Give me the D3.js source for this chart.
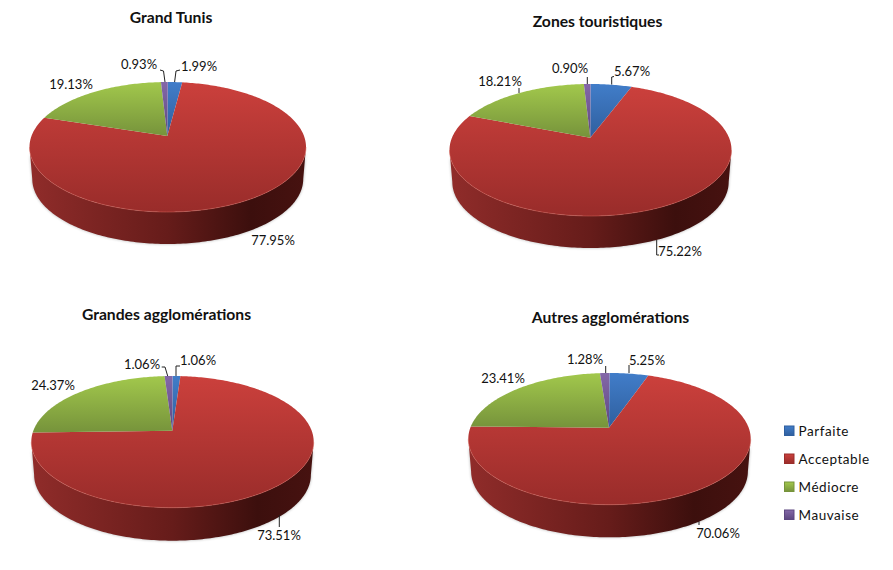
<!DOCTYPE html>
<html lang="fr">
<head>
<meta charset="utf-8">
<title>Qualité par zone</title>
<script src="https://cdn.jsdelivr.net/npm/d3@7/dist/d3.min.js"></script>
<style>
  html, body { margin: 0; padding: 0; background: #fff; }
  svg { display: block; }
  text { font-family: Lato, "Open Sans", sans-serif; fill: #111; }
</style>
</head>
<body>
<div id="chart"></div>
<script>
// Categories and shares (%), clockwise from twelve o'clock
const categories = ["Parfaite", "Acceptable", "Médiocre", "Mauvaise"];
const panelTitles = ["Grand Tunis", "Zones touristiques", "Grandes agglomérations", "Autres agglomérations"];
const grandTunis = [1.99, 77.95, 19.13, 0.93];
const zonesTouristiques = [5.67, 75.22, 18.21, 0.90];
const grandesAgglomerations = [1.06, 73.51, 24.37, 1.06];
const autresAgglomerations = [5.25, 70.06, 23.41, 1.28];
const panelValues = [grandTunis, zonesTouristiques, grandesAgglomerations, autresAgglomerations];

// Colour stops per category: top-face light/dark, wall left/mid/right
const faceLight = ["#417dc9", "#cb403c", "#a2c84c", "#8468a8"];
const faceDark = ["#2f5f9e", "#992c2a", "#76933b", "#5d4780"];
const wallStops = [
  ["#2b5688", "#1f3f66", "#122640"],
  ["#902c2a", "#661c1a", "#3c0f0d"],
  ["#6c8734", "#506428", "#313e18"],
  ["#5b4578", "#42325a", "#281e38"]
];

// Page layout: one entry per pie (outline extremes, apex, wall height, title anchor)
const layouts = [
  { left: 29.5, right: 306, top: 82, bottom: 212, ax: 167.3, ay: 136, depth: 32, tx: 171, ty: 23 },
  { left: 449.5, right: 731.5, top: 84, bottom: 216, ax: 590.3, ay: 137.7, depth: 32, tx: 597.5, ty: 27 },
  { left: 31.3, right: 313.7, top: 376, bottom: 507.7, ax: 172.3, ay: 430.7, depth: 33, tx: 166.5, ty: 320 },
  { left: 468.3, right: 750.7, top: 373, bottom: 504.7, ax: 609, ay: 427.7, depth: 32.6, tx: 610.5, ty: 323 }
];

// Value label centres and their leader lines, per pie and per category
const labelSpots = [
  [[199, 66], [273, 240], [71, 84], [139, 64]],
  [[632, 71], [680, 251], [500, 81], [570, 68]],
  [[198, 360], [279, 535], [53, 385], [142, 364]],
  [[647, 360], [718, 533], [503, 378], [585, 359]]
];
const leaders = [
  [[[180, 70], [176, 71], [174.6, 82]], null, null, [[160, 70], [163.5, 71], [165, 82]]],
  [[[614, 76.5], [611.7, 77], [611.7, 84.5]], [[656.7, 240], [656.7, 255], [659, 255]], [[519, 88], [519, 93]], [[587.3, 77], [587.3, 84]]],
  [[[180, 366], [176, 366], [176, 376]], [[279.3, 515], [279.3, 527]], null, [[161.7, 367], [165, 367], [167.7, 376]]],
  [[[629, 365], [629, 373]], [[699, 521.7], [699, 525]], null, [[605.7, 366], [605.7, 373]]]
];

const width = 893, height = 570;
const svg = d3.select("#chart").append("svg").attr("width", width).attr("height", height);
const defs = svg.append("defs");

defs.append("filter").attr("id", "soft").attr("x", "-5%").attr("y", "-5%").attr("width", "110%").attr("height", "110%")
  .append("feGaussianBlur").attr("stdDeviation", 1.6);

categories.forEach((c, i) => {
  const g = defs.append("linearGradient").attr("id", `face${i}`).attr("x1", 0).attr("y1", 0).attr("x2", 0).attr("y2", 1);
  g.append("stop").attr("offset", "0%").attr("stop-color", faceLight[i]);
  g.append("stop").attr("offset", "100%").attr("stop-color", faceDark[i]);
});

const pie = d3.pie().sort(null).value(d => d).startAngle(0).endAngle(2 * Math.PI);
const outline = d3.line();
const sampleStep = Math.PI / 180;

function sampleAngles(a0, a1) {
  const n = Math.max(2, Math.ceil((a1 - a0) / sampleStep));
  return d3.range(n + 1).map(i => a0 + (a1 - a0) * i / n);
}

layouts.forEach((lay, p) => {
  // The top face is a tilted disc: the apex sits above the outline's middle
  const upper = lay.ay - lay.top, lower = lay.bottom - lay.ay;
  const k = (lower - upper) / (lower + upper);
  const B = upper * (1 + k);
  const A = (lay.right - lay.left) / 2 * Math.sqrt(1 - k * k);
  const cx = (lay.right + lay.left) / 2;
  const project = (a, scaleX = 1, dy = 0) => {
    const u = Math.sin(a), v = Math.cos(a), w = 1 + k * v;
    return [cx + scaleX * A * u / w, lay.ay - B * v / w + dy];
  };
  const apex = [lay.ax, lay.ay];
  const arcs = pie(panelValues[p]);
  const g = svg.append("g");

  // Walls are visible on the front part of the rim only
  const wallFrom = Math.acos(-k), wallTo = 2 * Math.PI - wallFrom;
  const walls = [];
  arcs.forEach((d, i) => {
    const s = Math.max(d.startAngle, wallFrom), e = Math.min(d.endAngle, wallTo);
    if (e <= s) return;
    const id = `wall${p}-${i}`;
    const grad = defs.append("linearGradient").attr("id", id).attr("gradientUnits", "userSpaceOnUse")
      .attr("x1", lay.left).attr("x2", lay.right).attr("y1", 0).attr("y2", 0);
    [0, 0.5, 0.8, 1].forEach((o, j) => {
      const col = j === 3 ? d3.interpolateRgb(wallStops[i][2], wallStops[i][1])(0.25) : wallStops[i][j];
      grad.append("stop").attr("offset", o).attr("stop-color", col);
    });
    const angles = sampleAngles(s, e);
    const pts = angles.map(a => project(a)).concat(angles.slice().reverse().map(a => project(a, 0.98, lay.depth)));
    walls.push({ id, path: outline(pts) + "Z" });
  });

  g.selectAll("path.shadow").data(walls).join("path").attr("class", "shadow")
    .attr("d", d => d.path).attr("fill", "#000").attr("opacity", 0.3).attr("filter", "url(#soft)");
  g.selectAll("path.wall").data(walls).join("path").attr("class", "wall")
    .attr("d", d => d.path).attr("fill", d => `url(#${d.id})`);

  g.selectAll("path.face").data(arcs).join("path").attr("class", "face")
    .attr("d", d => outline([apex].concat(sampleAngles(d.startAngle, d.endAngle).map(a => project(a)))) + "Z")
    .attr("fill", (d, i) => `url(#face${i})`);

  // Pale rim along the front edge of the top face
  g.append("path").attr("fill", "none").attr("stroke", "#d9655c").attr("stroke-opacity", 0.55).attr("stroke-width", 0.9)
    .attr("d", outline(sampleAngles(wallFrom, wallTo).map(a => project(a))));

  leaders[p].forEach(pts => {
    if (pts) g.append("path").attr("d", outline(pts)).attr("fill", "none").attr("stroke", "#222").attr("stroke-width", 1);
  });

  g.selectAll("text.value").data(panelValues[p]).join("text").attr("class", "value")
    .attr("x", (d, i) => labelSpots[p][i][0]).attr("y", (d, i) => labelSpots[p][i][1] + 4.5)
    .attr("text-anchor", "middle").attr("font-size", 13)
    .text(d => `${d.toFixed(2)}%`);

  g.append("text").attr("x", lay.tx).attr("y", lay.ty).attr("text-anchor", "middle")
    .attr("font-size", 15.7).attr("font-weight", 700).text(panelTitles[p]);
});

// Legend
const legendY = d3.scalePoint().domain(categories).range([430.5, 514.5]);
const legend = svg.append("g").selectAll("g").data(categories).join("g")
  .attr("transform", d => `translate(784,${legendY(d)})`);
legend.append("rect").attr("x", 0.5).attr("y", -4.5).attr("width", 9.5).attr("height", 9.5)
  .attr("fill", (d, i) => `url(#face${i})`)
  .attr("stroke", (d, i) => faceDark[i]).attr("stroke-width", 1);
legend.append("text").attr("x", 14.5).attr("y", 5.3).attr("font-size", 13.5).attr("letter-spacing", 0.55).text(d => d);
</script>
</body>
</html>
